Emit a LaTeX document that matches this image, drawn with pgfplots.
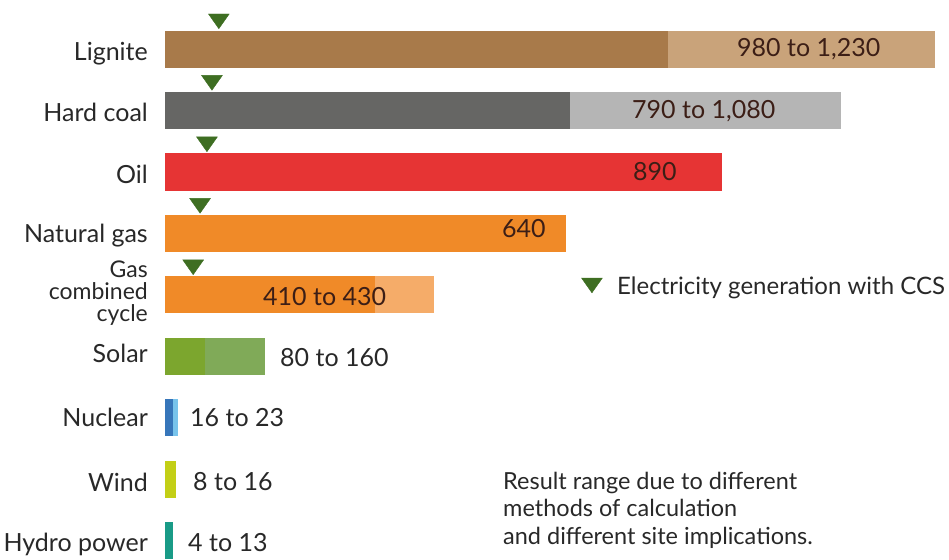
\documentclass[border=0pt]{standalone}
\usepackage{fontspec}
\setmainfont{Lato}
\usepackage{pgfplots}
\pgfplotsset{compat=1.18}
\definecolor{lignD}{RGB}{168,122,74}
\definecolor{lignL}{RGB}{201,163,122}
\definecolor{coalD}{RGB}{102,102,100}
\definecolor{coalL}{RGB}{181,181,181}
\definecolor{oil}{RGB}{230,52,52}
\definecolor{gasD}{RGB}{240,138,40}
\definecolor{gasL}{RGB}{245,172,105}
\definecolor{solD}{RGB}{124,166,46}
\definecolor{solL}{RGB}{128,170,88}
\definecolor{nucD}{RGB}{55,118,186}
\definecolor{nucL}{RGB}{120,195,235}
\definecolor{wind}{RGB}{195,207,22}
\definecolor{hydro}{RGB}{25,155,135}
\definecolor{ccs}{RGB}{62,110,34}
\definecolor{txt}{RGB}{40,40,40}
\definecolor{bartxt}{RGB}{60,30,22}
\pgfplotsset{hb/.style={xbar, bar width=37pt, bar shift=0pt, draw=none, fill=#1}}
\tikzset{lab/.style={font=\fontsize{25}{30}\selectfont, text=txt, inner sep=0pt},
         lab2/.style={font=\fontsize{23}{26}\selectfont, text=txt, inner sep=0pt},
         leg/.style={font=\fontsize{24}{28}\selectfont, text=txt, inner sep=0pt},
         note/.style={font=\fontsize{23.5}{28}\selectfont, text=txt, inner sep=0pt}}
\begin{document}
\begin{tikzpicture}
\begin{axis}[
  scale only axis, width=949pt, height=559pt,
  xmin=-263.6, xmax=1252.4, ymin=-0.293, ymax=8.797,
  hide axis, clip=false,
]
% Lignite
\addplot[hb=lignL] coordinates {(1230,8)};
\addplot[hb=lignD] coordinates {(803,8)};
% Hard coal
\addplot[hb=coalL] coordinates {(1080,7)};
\addplot[hb=coalD] coordinates {(647,7)};
% Oil
\addplot[hb=oil] coordinates {(890,6)};
% Natural gas
\addplot[hb=gasD] coordinates {(640,5)};
% Gas combined cycle
\addplot[hb=gasL] coordinates {(430,4)};
\addplot[hb=gasD] coordinates {(335,4)};
% Solar
\addplot[hb=solL] coordinates {(160,3)};
\addplot[hb=solD] coordinates {(64,3)};
% Nuclear
\addplot[hb=nucL] coordinates {(21,2)};
\addplot[hb=nucD] coordinates {(13,2)};
% Wind
\addplot[hb=wind] coordinates {(18,1)};
% Hydro
\addplot[hb=hydro] coordinates {(13,0)};
% CCS markers
\addplot[only marks, color=ccs, mark=triangle*, mark size=12pt,
  mark options={rotate=180, yscale=0.82, fill=ccs, draw=none}]
  coordinates {(86,8.49) (75,7.49) (67,6.49) (56,5.49) (45,4.49) (682,4.195)};

% category labels
\node[lab, anchor=base east] at (rel axis cs:{148/949},{1-61/559}) {Lignite};
\node[lab, anchor=base east] at (rel axis cs:{148/949},{1-122/559}) {Hard coal};
\node[lab, anchor=base east] at (rel axis cs:{148/949},{1-184/559}) {Oil};
\node[lab, anchor=base east] at (rel axis cs:{148/949},{1-243/559}) {Natural gas};
\node[lab2, anchor=base east] at (rel axis cs:{148/949},{1-278/559}) {Gas};
\node[lab2, anchor=base east] at (rel axis cs:{148/949},{1-300/559}) {combined};
\node[lab2, anchor=base east] at (rel axis cs:{148/949},{1-322/559}) {cycle};
\node[lab, anchor=base east] at (rel axis cs:{148/949},{1-363/559}) {Solar};
\node[lab, anchor=base east] at (rel axis cs:{148/949},{1-427/559}) {Nuclear};
\node[lab, anchor=base east] at (rel axis cs:{148/949},{1-492/559}) {Wind};
\node[lab, anchor=base east] at (rel axis cs:{148/949},{1-551/559}) {Hydro power};

% value labels
\node[lab, text=bartxt, anchor=base west] at (rel axis cs:{737/949},{1-57/559}) {980 to 1,230};
\node[lab, text=bartxt, anchor=base west] at (rel axis cs:{632/949},{1-119/559}) {790 to 1,080};
\node[lab, text=bartxt, anchor=base west] at (rel axis cs:{633/949},{1-181/559}) {890};
\node[lab, text=bartxt, anchor=base west] at (rel axis cs:{502/949},{1-238/559}) {640};
\node[lab, text=bartxt, anchor=base west] at (rel axis cs:{263/949},{1-306/559}) {410 to 430};
\node[lab, anchor=base west] at (rel axis cs:{280/949},{1-367/559}) {80 to 160};
\node[lab, anchor=base west] at (rel axis cs:{190/949},{1-427/559}) {16 to 23};
\node[lab, anchor=base west] at (rel axis cs:{193/949},{1-491/559}) {8 to 16};
\node[lab, anchor=base west] at (rel axis cs:{188/949},{1-551/559}) {4 to 13};

% legend text
\node[leg, anchor=base west] at (rel axis cs:{617/949},{1-295/559}) {Electricity generation with CCS};

% note
\node[note, anchor=base west] at (rel axis cs:{503/949},{1-490/559}) {Result range due to different};
\node[note, anchor=base west] at (rel axis cs:{503/949},{1-517/559}) {methods of calculation};
\node[note, anchor=base west] at (rel axis cs:{503/949},{1-545/559}) {and different site implications.};
\end{axis}
\pgfresetboundingbox
\path (current axis.south west) rectangle (current axis.north east);
\end{tikzpicture}
\end{document}
